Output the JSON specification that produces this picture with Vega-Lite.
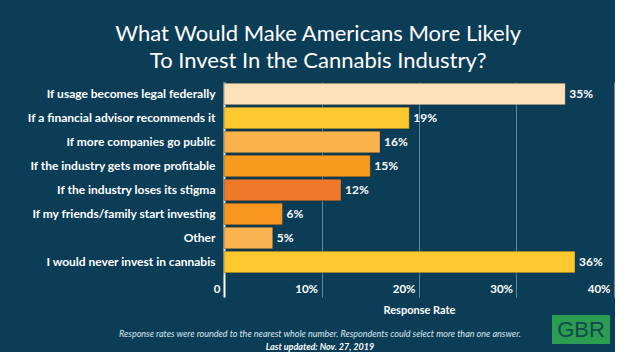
{
  "$schema": "https://vega.github.io/schema/vega-lite/v6.json",
  "background": "#0c3d57",
  "padding": {"left": 0, "top": 23, "right": 0, "bottom": 0},
  "title": {
    "text": ["What Would Make Americans More Likely", "To Invest In the Cannabis Industry?"],
    "color": "white",
    "font": "Lato",
    "fontSize": 22,
    "fontWeight": "normal",
    "lineHeight": 27,
    "anchor": "middle",
    "frame": "bounds",
    "offset": 9,
    "dx": 11
  },
  "datasets": {
    "responses": [
      {"answer": "If usage becomes legal federally", "rate": 0.35},
      {"answer": "If a financial advisor recommends it", "rate": 0.19},
      {"answer": "If more companies go public", "rate": 0.16},
      {"answer": "If the industry gets more profitable", "rate": 0.15},
      {"answer": "If the industry loses its stigma", "rate": 0.12},
      {"answer": "If my friends/family start investing", "rate": 0.06},
      {"answer": "Other", "rate": 0.05},
      {"answer": "I would never invest in cannabis", "rate": 0.36}
    ],
    "notes": [
      {"kind": "rounding", "note": "Response rates were rounded to the nearest whole number. Respondents could select more than one answer."},
      {"kind": "updated", "note": "Last updated: Nov. 27, 2019"}
    ],
    "logo": [{"brand": "GBR"}]
  },
  "spacing": 0,
  "vconcat": [
    {
      "width": 390,
      "height": 192,
      "data": {"name": "responses"},
      "encoding": {
        "y": {
          "field": "answer",
          "type": "nominal",
          "sort": null,
          "scale": {"paddingInner": 0.1, "paddingOuter": 0.05},
          "axis": {
            "title": null,
            "domain": false,
            "ticks": false,
            "labelColor": "white",
            "labelFont": "Lato",
            "labelFontWeight": "bold",
            "labelFontSize": 12,
            "labelPadding": 9,
            "labelLimit": 230,
            "minExtent": 224,
            "maxExtent": 224
          }
        },
        "x": {
          "field": "rate",
          "type": "quantitative",
          "scale": {"domain": [0, 0.4]},
          "axis": {
            "title": "Response Rate",
            "titleColor": "white",
            "titleFont": "Lato",
            "titleFontSize": 11,
            "titleFontWeight": "bold",
            "titlePadding": 6,
            "values": [0, 0.1, 0.2, 0.3, 0.4],
            "format": ".0%",
            "labelExpr": "datum.value === 0 ? '0' : datum.label",
            "labelColor": "white",
            "labelFont": "Lato",
            "labelFontWeight": "bold",
            "labelFontSize": 11.5,
            "labelAlign": "right",
            "labelBaseline": "middle",
            "labelPadding": -8,
            "labelOffset": -4,
            "labelFlush": false,
            "labelOverlap": false,
            "domain": false,
            "ticks": true,
            "tickSize": 23,
            "tickColor": {"condition": {"test": "datum.value === 0", "value": "white"}, "value": "#5f87a0"},
            "tickWidth": {"condition": {"test": "datum.value === 0", "value": 2}, "value": 1},
            "grid": true,
            "gridColor": {"condition": {"test": "datum.value === 0", "value": "white"}, "value": "#5f87a0"},
            "gridWidth": {"condition": {"test": "datum.value === 0", "value": 2}, "value": 1}
          }
        }
      },
      "layer": [
        {
          "mark": {"type": "bar", "stroke": "#2a2a1a", "strokeOpacity": 0.35, "strokeWidth": 1},
          "encoding": {
            "color": {
              "field": "answer",
              "type": "nominal",
              "sort": null,
              "scale": {
                "domain": [
                  "If usage becomes legal federally",
                  "If a financial advisor recommends it",
                  "If more companies go public",
                  "If the industry gets more profitable",
                  "If the industry loses its stigma",
                  "If my friends/family start investing",
                  "Other",
                  "I would never invest in cannabis"
                ],
                "range": ["#fde2b9", "#fec92f", "#fbb24c", "#f99b1e", "#f0782a", "#f9961f", "#fbb352", "#fec92f"]
              },
              "legend": null
            }
          }
        },
        {
          "mark": {"type": "text", "align": "left", "baseline": "middle", "dx": 4, "font": "Lato", "fontWeight": "bold", "fontSize": 12, "color": "white"},
          "encoding": {"text": {"field": "rate", "type": "quantitative", "format": ".0%"}}
        }
      ]
    },
    {
      "spacing": 12,
      "hconcat": [
        {
          "width": 316,
          "height": 30,
          "data": {"name": "notes"},
          "encoding": {
            "y": {"field": "kind", "type": "nominal", "sort": null, "scale": {"type": "point", "padding": 0, "range": [19, 32]}, "axis": null},
            "text": {"field": "note", "type": "nominal"}
          },
          "layer": [
            {
              "transform": [{"filter": "datum.kind === 'rounding'"}],
              "mark": {"type": "text", "baseline": "middle", "font": "Lato", "fontStyle": "italic", "fontSize": 9, "color": "#dbe6ee", "dx": -62}
            },
            {
              "transform": [{"filter": "datum.kind === 'updated'"}],
              "mark": {"type": "text", "baseline": "middle", "font": "Lato", "fontStyle": "italic", "fontWeight": "bold", "fontSize": 9, "color": "white", "dx": -62}
            }
          ]
        },
        {
          "width": 58,
          "height": 29,
          "view": {"fill": "#2a9d50", "stroke": null},
          "data": {"name": "logo"},
          "mark": {"type": "text", "baseline": "middle", "font": "Liberation Sans", "fontSize": 22, "color": "#0f4a4e"},
          "encoding": {"text": {"field": "brand", "type": "nominal"}}
        }
      ]
    }
  ],
  "config": {"view": {"stroke": null}, "font": "Lato"}
}
